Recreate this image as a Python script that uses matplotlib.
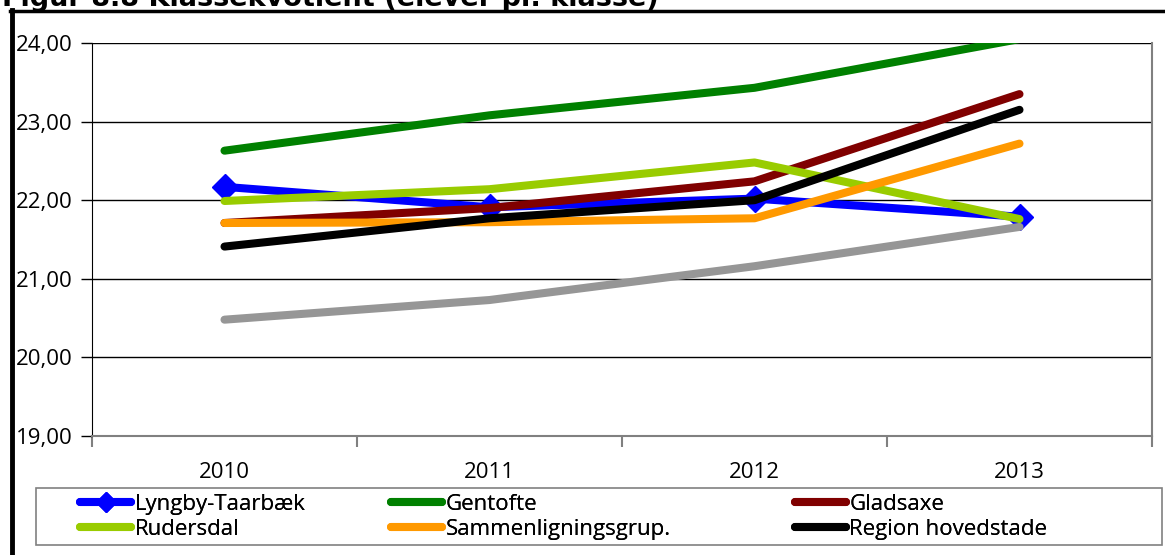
"""Figur 8.8 Klassekvotient (elever pr. klasse)."""

import matplotlib

matplotlib.use("Agg")
import matplotlib.pyplot as plt
from matplotlib.lines import Line2D
from matplotlib.patches import Rectangle

plt.rcParams["font.family"] = ["Open Sans", "DejaVu Sans"]

years = ["2010", "2011", "2012", "2013"]

lyngby = [22.17, 21.91, 22.02, 21.79]
gentofte = [22.63, 23.08, 23.43, 24.05]
gladsaxe = [21.71, 21.90, 22.24, 23.35]
rudersdal = [21.99, 22.14, 22.48, 21.76]
sammenligning = [21.71, 21.72, 21.77, 22.72]
region = [21.41, 21.77, 22.00, 23.15]
hele_landet = [20.48, 20.73, 21.16, 21.66]

series = [
    ("Lyngby-Taarbæk", lyngby, "#0000FF", "D"),
    ("Gentofte", gentofte, "#008000", None),
    ("Gladsaxe", gladsaxe, "#800000", None),
    ("Rudersdal", rudersdal, "#99CC00", None),
    ("Sammenligningsgrup.", sammenligning, "#FF9900", None),
    ("Region hovedstade", region, "#000000", None),
    ("_hele_landet", hele_landet, "#969696", None),
]

W, H = 1165, 555
fig = plt.figure(figsize=(W / 100, H / 100), dpi=100)
ax = fig.add_axes([92 / W, 1 - 436 / H, (1152 - 92) / W, (436 - 43) / H])

x = list(range(len(years)))
handles = []
for label, values, color, marker in series:
    (line,) = ax.plot(
        x,
        values,
        color=color,
        lw=5.8,
        marker=marker,
        markersize=13,
        solid_capstyle="round",
        solid_joinstyle="round",
        label=label,
    )
    if not label.startswith("_"):
        handles.append(line)

ax.set_xlim(-0.5, len(years) - 0.5)
ax.set_ylim(19, 24)
yvals = [19, 20, 21, 22, 23, 24]
ax.set_yticks(yvals)
ax.set_yticklabels([f"{v:.2f}".replace(".", ",") for v in yvals])
ax.yaxis.grid(True, color="#000000", lw=1)
ax.set_axisbelow(True)

ax.set_xticks([i - 0.5 for i in range(len(years) + 1)])
ax.set_xticklabels([])
ax.set_xticks(x, minor=True)
ax.set_xticklabels(years, minor=True)
ax.tick_params(axis="x", which="major", length=8, color="#808080", width=1.5)
ax.tick_params(axis="x", which="minor", length=0, pad=19, labelsize=16)
ax.tick_params(axis="y", length=8, width=1, pad=6, labelsize=16)

ax.spines["top"].set_visible(False)
ax.spines["left"].set_color("#000000")
ax.spines["right"].set_color("#808080")
ax.spines["right"].set_linewidth(1.5)
ax.spines["bottom"].set_color("#808080")
ax.spines["bottom"].set_linewidth(1.5)

# legend box drawn separately, one frameless legend per column (row-wise order)
fig.add_artist(
    Rectangle(
        (36 / W, 1 - 545 / H),
        (1162 - 36) / W,
        (545 - 488) / H,
        transform=fig.transFigure,
        fill=False,
        edgecolor="#808080",
        lw=1.2,
    )
)
col_starts = [80, 391, 795]
for col, x0 in enumerate(col_starts):
    leg = fig.legend(
        handles=handles[col::3],
        loc="upper left",
        bbox_to_anchor=(x0 / W, 1 - 494 / H),
        frameon=False,
        fontsize=16,
        handlelength=2.3,
        handletextpad=0.15,
        labelspacing=0.18,
        numpoints=1,
        borderaxespad=0,
        borderpad=0,
        markerscale=0.8,
    )
    fig.add_artist(leg)

# outer chart frame (partly cut off)
fig.add_artist(Line2D([10 / W, 1], [1 - 11 / H, 1 - 11 / H], color="black", lw=2.5))
fig.add_artist(Line2D([12 / W, 12 / W], [0, 1 - 10 / H], color="black", lw=3.5))

fig.text(
    2 / W,
    1 - 6 / H,
    "Figur 8.8 Klassekvotient (elever pr. klasse)",
    family="DejaVu Sans",
    fontsize=19.5,
    fontweight="bold",
    va="baseline",
    ha="left",
)

fig.savefig("out.png", dpi=100)
